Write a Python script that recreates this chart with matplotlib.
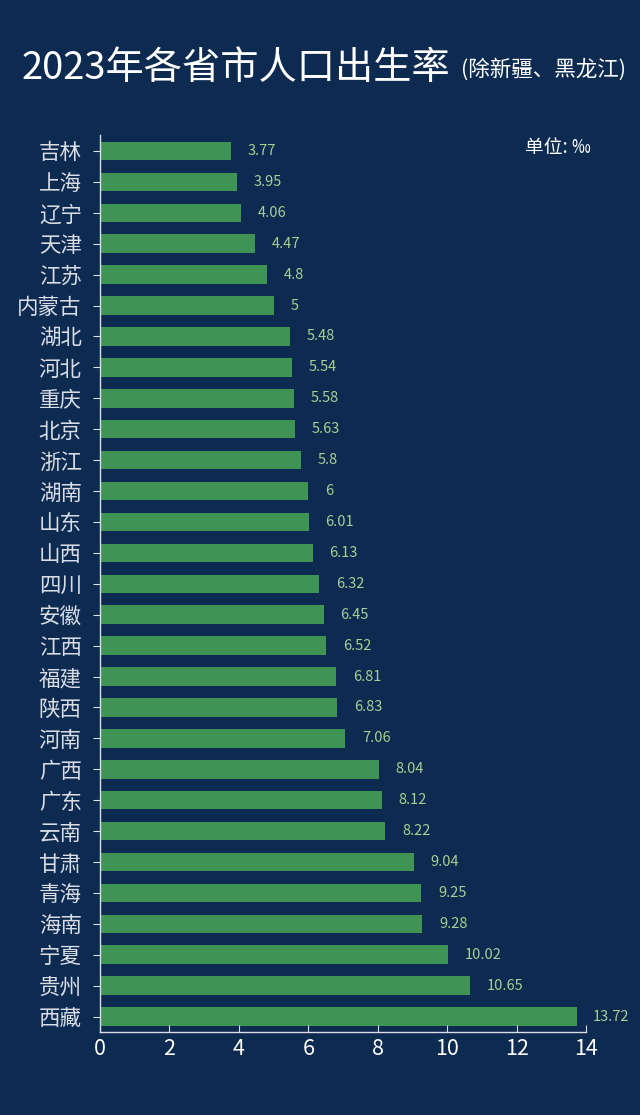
import matplotlib.pyplot as plt

plt.rcParams['font.family'] = ['Noto Sans CJK SC', 'DejaVu Sans']

# 数据
provinces = ['吉林', '上海', '辽宁', '天津', '江苏', '内蒙古', '湖北', '河北', '重庆', '北京',
             '浙江', '湖南', '山东', '山西', '四川', '安徽', '江西', '福建', '陕西', '河南',
             '广西', '广东', '云南', '甘肃', '青海', '海南', '宁夏', '贵州', '西藏']
rates = [3.77, 3.95, 4.06, 4.47, 4.8, 5, 5.48, 5.54, 5.58, 5.63,
         5.8, 6, 6.01, 6.13, 6.32, 6.45, 6.52, 6.81, 6.83, 7.06,
         8.04, 8.12, 8.22, 9.04, 9.25, 9.28, 10.02, 10.65, 13.72]
rate_labels = ['3.77', '3.95', '4.06', '4.47', '4.8', '5', '5.48', '5.54', '5.58', '5.63',
               '5.8', '6', '6.01', '6.13', '6.32', '6.45', '6.52', '6.81', '6.83', '7.06',
               '8.04', '8.12', '8.22', '9.04', '9.25', '9.28', '10.02', '10.65', '13.72']

bg = '#0d2a50'
fig = plt.figure(figsize=(6.4, 11.15), dpi=100, facecolor=bg)
ax = fig.add_axes([0.156, 0.0744, 0.76, 0.8046], facecolor=bg)

y = list(range(len(provinces)))
ax.barh(y, rates, height=0.6, color='#3f9453')
for yi, v, lab in zip(y, rates, rate_labels):
    ax.text(v + 0.48, yi, lab, color='#a9cf94', fontsize=10.5, va='center', ha='left')

ax.set_ylim(len(provinces) - 0.5, -0.52)
ax.set_xlim(0, 14)
ax.set_yticks(y)
ax.set_yticklabels(provinces, color='white', fontsize=15.5)
ax.set_xticks(range(0, 15, 2))
ax.tick_params(axis='x', colors='#d8dde6', labelcolor='white', labelsize=15.5, length=5, direction='in', pad=4)
ax.tick_params(axis='y', colors='#d8dde6', length=5, pad=8)

for s in ['top', 'right']:
    ax.spines[s].set_visible(False)
for s in ['left', 'bottom']:
    ax.spines[s].set_color('#d8dde6')
    ax.spines[s].set_linewidth(1)

# 标题
fig.text(22 / 640, 1 - 68 / 1115, '2023年各省市人口出生率', color='white', fontsize=27.5,
         fontweight='medium', va='center', ha='left')
fig.text(461 / 640, 1 - 70 / 1115, '(除新疆、黑龙江)', color='white', fontsize=15.5,
         va='center', ha='left')
fig.text(525 / 640, 1 - 147 / 1115, '单位: ‰', color='white', fontsize=13.5,
         va='center', ha='left')

fig.savefig('out.png', dpi=100, facecolor=bg)
